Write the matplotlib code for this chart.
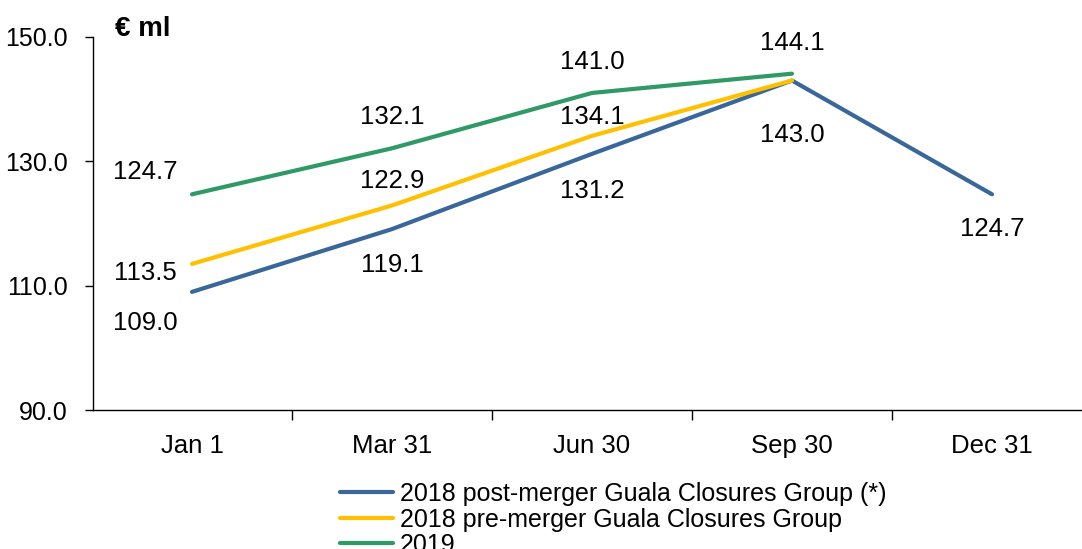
import matplotlib.pyplot as plt
from matplotlib.ticker import FixedLocator

plt.rcParams['font.family'] = ['Liberation Sans', 'DejaVu Sans']

dates = ["Jan 1", "Mar 31", "Jun 30", "Sep 30", "Dec 31"]
post_merger = [109.0, 119.1, 131.2, 143.0, 124.7]
pre_merger = [113.5, 122.9, 134.1, 143.0]
y2019 = [124.7, 132.1, 141.0, 144.1]

c_blue = "#3A679A"
c_yellow = "#FFC000"
c_green = "#2F9A66"

fig = plt.figure(figsize=(10.82, 5.49), dpi=100)
ax = fig.add_axes([93 / 1082, 139 / 549, 1 - 93 / 1082, 373 / 549])

x = list(range(len(dates)))
ax.plot(x, post_merger, color=c_blue, lw=3, label="2018 post-merger Guala Closures Group (*)", solid_capstyle="round")
ax.plot(x[:4], pre_merger, color=c_yellow, lw=3, label="2018 pre-merger Guala Closures Group", solid_capstyle="round")
ax.plot(x[:4], y2019, color=c_green, lw=3, label="2019", solid_capstyle="round")

# data labels (offset in pixels)
offsets_blue = [(-47, -31), (0, -36), (0, -37), (0, -54), (0, -35)]
offsets_yellow = [(-47, -9), (0, 24), (0, 19), None]
offsets_green = [(-47, 22), (0, 31), (0, 31), (0, 31)]
for vals, offs in [(post_merger, offsets_blue), (pre_merger, offsets_yellow), (y2019, offsets_green)]:
    for i, (v, o) in enumerate(zip(vals, offs)):
        if o is None:
            continue
        ax.annotate(f"{v:.1f}", (i, v), xytext=o, textcoords="offset pixels",
                    ha="center", va="center", fontsize=18.5)

ax.set_xlim(-0.495, 4.45)
ax.set_ylim(90, 150)
ax.set_yticks([90, 110, 130, 150])
ax.set_yticklabels(["90.0", "110.0", "130.0", "150.0"])
ax.set_xticks(x)
ax.set_xticklabels(dates)
ax.xaxis.set_minor_locator(FixedLocator([0.5, 1.5, 2.5, 3.5]))
ax.tick_params(axis="x", which="major", length=0, pad=17, labelsize=18.5)
ax.tick_params(axis="x", which="minor", length=7, direction="out", width=1)
ax.tick_params(axis="y", length=6, direction="out", width=1, pad=12, labelsize=18)
for s in ["top", "right"]:
    ax.spines[s].set_visible(False)
for s in ["left", "bottom"]:
    ax.spines[s].set_linewidth(1)

fig.text(115 / 1082, 1 - 29 / 549, "€ ml", fontsize=20, fontweight="bold", va="center", ha="left")

fig.legend(loc="upper left", bbox_to_anchor=(340 / 1082, 1 - 482 / 549), frameon=False,
           fontsize=18, handlelength=2.1, handletextpad=0.28, labelspacing=0.06,
           borderpad=0, borderaxespad=0)

fig.savefig("out.png", dpi=100)
